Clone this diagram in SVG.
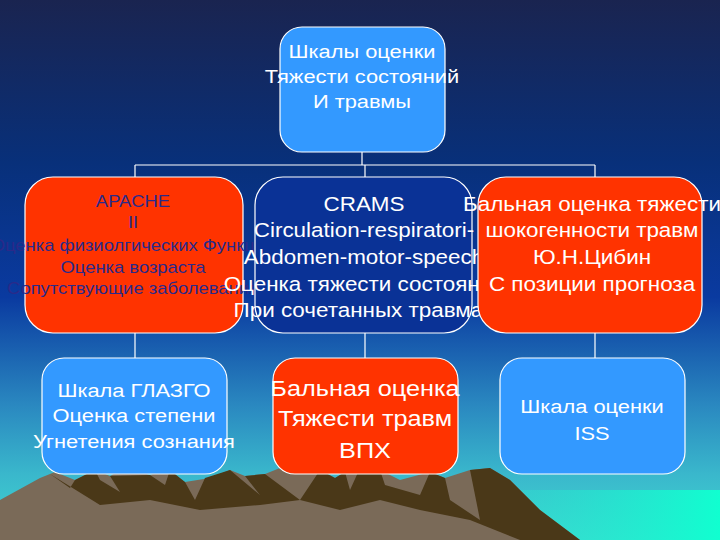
<svg xmlns="http://www.w3.org/2000/svg" width="720" height="540" viewBox="0 0 720 540">
<defs>
<linearGradient id="bg" x1="0" y1="0" x2="0" y2="1">
<stop offset="0" stop-color="#1a2450"/>
<stop offset="0.3" stop-color="#08307a"/>
<stop offset="0.55" stop-color="#0a3aa0"/>
<stop offset="0.75" stop-color="#2a88c0"/>
<stop offset="0.88" stop-color="#3ab8cc"/>
<stop offset="1" stop-color="#40d8d0"/>
</linearGradient>
<linearGradient id="sea" x1="0" y1="0" x2="1" y2="0">
<stop offset="0" stop-color="#40c8d0" stop-opacity="0"/>
<stop offset="1" stop-color="#10ffd0"/>
</linearGradient>
</defs>
<style>
.b{stroke:#fff;stroke-width:1.2}
.lb{fill:#3399ff}.rd{fill:#ff3300}.nv{fill:#0a3296}
.t{font-family:"Liberation Sans",Arial,sans-serif;text-anchor:middle;fill:#fff}
.d{fill:#2a2a8a}
.c{stroke:#fff;stroke-width:1.2;fill:none}
</style>
<rect width="720" height="540" fill="url(#bg)"/>
<rect x="380" y="490" width="340" height="50" fill="url(#sea)"/>
<g id="mountains">
<polygon fill="#7a6a58" points="0,500 40,478 55,472 75,480 95,470 110,476 125,468 150,475 165,470 185,482 210,478 230,470 245,476 265,474 280,468 300,474 320,470 335,478 345,472 360,468 380,470 400,480 430,472 445,478 470,470 490,468 510,480 540,510 580,540 0,540"/>
<polygon fill="#4a3818" points="50,474 70,488 75,480 95,470 100,480 120,492 110,476 150,475 165,485 170,470 185,482 195,500 205,478 230,470 260,495 245,476 265,474 300,500 320,470 335,478 345,472 350,490 360,468 380,470 385,485 420,495 430,472 445,478 450,500 480,520 470,470 490,468 510,480 540,510 580,540 520,540 470,520 420,510 380,500 340,510 300,500 260,505 200,510 150,500 100,505"/>
</g>
<g id="connectors">
<path class="c" d="M362,152V165M135,165H595M135,165V177M365,165V177M595,165V177M135,333V358M365,333V358M595,333V358"/>
</g>
<g id="top">
<rect class="b lb" x="280" y="27" width="165" height="125" rx="22"/>
<text class="t" font-size="19" transform="translate(362,0) scale(1.15,1)"><tspan x="0" y="58">Шкалы оценки</tspan><tspan x="0" y="83">Тяжести состояний</tspan><tspan x="0" y="108">И травмы</tspan></text>
</g>
<g id="apache">
<rect class="b rd" x="25" y="177" width="218" height="156" rx="28"/>
<text class="t d" font-size="16" transform="translate(133,0) scale(1.15,1)"><tspan x="0" y="207">APACHE</tspan><tspan x="0" y="228">II</tspan><tspan x="0" y="251">Оценка физиолгических Функций</tspan><tspan x="0" y="273">Оценка возраста</tspan><tspan x="0" y="294">Сопутствующие заболевания</tspan></text>
</g>
<g id="crams">
<rect class="b nv" x="255" y="177" width="217" height="156" rx="28"/>
<text class="t" font-size="19.5" transform="translate(364,0) scale(1.15,1)"><tspan x="0" y="211">CRAMS</tspan><tspan x="0" y="237">Circulation-respiratori-</tspan><tspan x="0" y="264">Abdomen-motor-speech</tspan><tspan x="0" y="291">Оценка тяжести состояния</tspan><tspan x="0" y="317">При сочетанных травмах</tspan></text>
</g>
<g id="ballnaya">
<rect class="b rd" x="478" y="177" width="224" height="156" rx="28"/>
<text class="t" font-size="19.5" transform="translate(592,0) scale(1.15,1)"><tspan x="0" y="211">Бальная оценка тяжести</tspan><tspan x="0" y="237">шокогенности травм</tspan><tspan x="0" y="264">Ю.Н.Цибин</tspan><tspan x="0" y="291">С позиции прогноза</tspan></text>
</g>
<g id="glasgo">
<rect class="b lb" x="42" y="358" width="185" height="116" rx="22"/>
<text class="t" font-size="19" transform="translate(134,0) scale(1.15,1)"><tspan x="0" y="397">Шкала ГЛАЗГО</tspan><tspan x="0" y="422">Оценка степени</tspan><tspan x="0" y="448">Угнетения сознания</tspan></text>
</g>
<g id="vph">
<rect class="b rd" x="273" y="358" width="185" height="116" rx="22"/>
<text class="t" font-size="22" transform="translate(365,0) scale(1.15,1)"><tspan x="0" y="396">Бальная оценка</tspan><tspan x="0" y="426">Тяжести травм</tspan><tspan x="0" y="458">ВПХ</tspan></text>
</g>
<g id="iss">
<rect class="b lb" x="500" y="358" width="185" height="116" rx="22"/>
<text class="t" font-size="19" transform="translate(592,0) scale(1.15,1)"><tspan x="0" y="413">Шкала оценки</tspan><tspan x="0" y="440">ISS</tspan></text>
</g>
</svg>
